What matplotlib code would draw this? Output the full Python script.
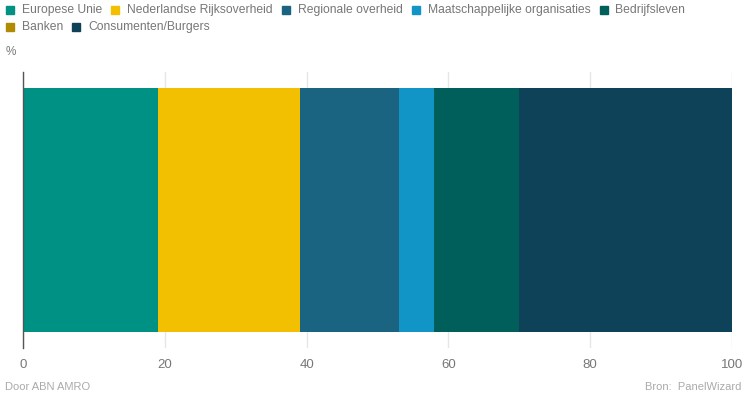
import matplotlib
matplotlib.use("Agg")
import matplotlib.pyplot as plt
from matplotlib.patches import Rectangle

categories = ["Europese Unie", "Nederlandse Rijksoverheid", "Regionale overheid",
              "Maatschappelijke organisaties", "Bedrijfsleven", "Banken", "Consumenten/Burgers"]
values = [19, 20, 14, 5, 12, 0, 30]
colors = ["#009185", "#F2C000", "#1A6482", "#1095C6", "#005F5A", "#B08A00", "#0E4258"]
xticks = [0, 20, 40, 60, 80, 100]

plt.rcParams['font.family'] = ['Liberation Sans', 'DejaVu Sans']

W, H = 746, 398
fig = plt.figure(figsize=(W / 100, H / 100), dpi=100)
ax = fig.add_axes([23 / W, (H - 348) / H, (732 - 23) / W, (348 - 72) / H])

left = 0
for v, c, lab in zip(values, colors, categories):
    ax.barh(0, v, left=left, height=0.884, color=c, label=lab, linewidth=0)
    left += v

ax.set_xlim(0, 100)
ax.set_ylim(-0.5, 0.5)
ax.set_xticks(xticks)
ax.set_xticklabels([str(t) for t in xticks])
ax.set_yticks([])
ax.tick_params(axis='x', length=0, labelsize=9.5, labelcolor="#777777", pad=8)
ax.grid(axis='x', color="#e6e6e6", linewidth=1)
ax.set_axisbelow(True)
for s in ["top", "right", "bottom"]:
    ax.spines[s].set_visible(False)
ax.spines["left"].set_color("#555555")
ax.spines["left"].set_linewidth(1)

# Manual legend (two rows)
fig.canvas.draw()
renderer = fig.canvas.get_renderer()
rows = [[0, 1, 2, 3, 4], [5, 6]]
row_y = [10, 27]
fs = 8.7
for r, idxs in enumerate(rows):
    x = 6
    yc = row_y[r]
    for i in idxs:
        fig.patches.append(Rectangle((x / W, (H - yc - 4) / H), 8 / W, 8 / H,
                                     transform=fig.transFigure, color=colors[i]))
        t = fig.text((x + 16) / W, (H - yc) / H, categories[i], fontsize=fs,
                     color="#777777", va="center", ha="left")
        bb = t.get_window_extent(renderer)
        x = bb.x1 + 9

fig.text(6 / W, (H - 52) / H, "%", fontsize=8.5, color="#777777", va="center", ha="left")
fig.text(5 / W, (H - 387) / H, "Door ABN AMRO", fontsize=8, color="#aaaaaa", va="center", ha="left")
fig.text(741 / W, (H - 387) / H, "Bron:  PanelWizard", fontsize=8, color="#aaaaaa", va="center", ha="right")

fig.savefig("out.png", dpi=100)
